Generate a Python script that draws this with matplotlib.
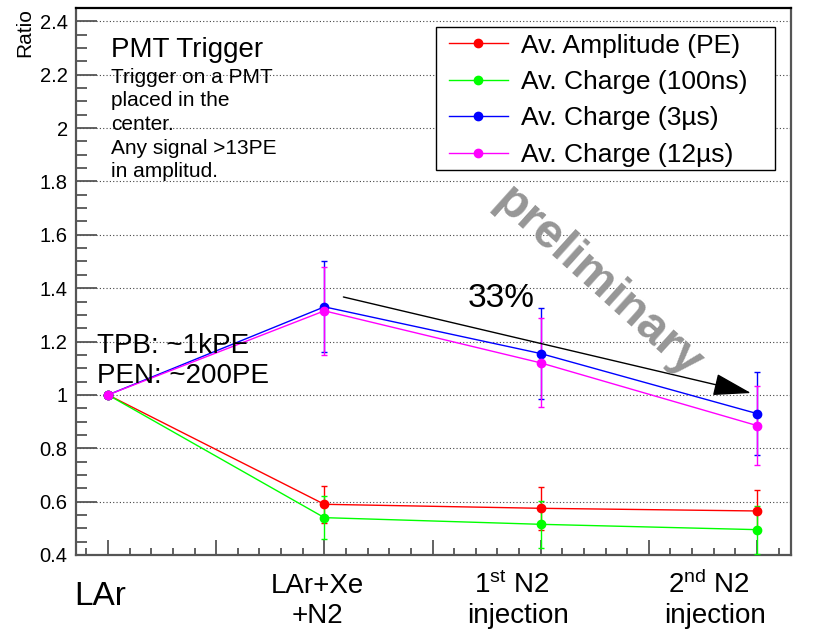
import matplotlib
matplotlib.use("Agg")
import matplotlib.pyplot as plt
from matplotlib.lines import Line2D
from matplotlib.patches import Rectangle
from matplotlib.ticker import MultipleLocator

plt.rcParams["font.family"] = ["Liberation Sans", "DejaVu Sans"]
plt.rcParams["mathtext.fontset"] = "custom"
plt.rcParams["mathtext.rm"] = "Liberation Sans"
plt.rcParams["mathtext.it"] = "Liberation Sans:italic"

# x position of each run stage: LAr, LAr+Xe+N2, 1st N2, 2nd N2
stages = [0, 1, 2, 3]

amplitude = [1.0, 0.59, 0.575, 0.565]
amplitude_err = [0.0, 0.07, 0.08, 0.08]
charge_100ns = [1.0, 0.54, 0.515, 0.495]
charge_100ns_err = [0.0, 0.08, 0.087, 0.09]
charge_3us = [1.0, 1.33, 1.155, 0.93]
charge_3us_err = [0.0, 0.17, 0.17, 0.157]
charge_12us = [1.0, 1.315, 1.12, 0.885]
charge_12us_err = [0.0, 0.165, 0.167, 0.147]

series_labels = ["Av. Amplitude (PE)", "Av. Charge (100ns)",
                 "Av. Charge (3µs)", "Av. Charge (12µs)"]
series_colors = ["#ff0000", "#00ff00", "#0000ff", "#ff00ff"]

W, H = 815, 631


def fig_xy(x, y):
    """Canvas pixel (from top-left) -> figure fraction"""
    return x / W, 1 - y / H


fig = plt.figure(figsize=(W / 100, H / 100), dpi=100)
ax = fig.add_axes([76 / W, 1 - 555 / H, 715 / W, 547 / H])

series = [(amplitude, amplitude_err), (charge_100ns, charge_100ns_err),
          (charge_3us, charge_3us_err), (charge_12us, charge_12us_err)]
for (vals, errs), color in zip(series, series_colors):
    ax.errorbar(stages, vals, yerr=errs, fmt="none", ecolor=color,
                elinewidth=1.0, capsize=2.5, capthick=1.0, zorder=3)
    ax.plot(stages, vals, color=color, lw=1.0, marker="o",
            markersize=6, zorder=4)

ax.set_xlim(-0.148, 3.157)
ax.set_ylim(0.4, 2.45)

# ROOT-like axes: ticks inside, dotted horizontal grid
ax.yaxis.set_major_locator(MultipleLocator(0.2))
ax.yaxis.set_minor_locator(MultipleLocator(0.05))
ax.xaxis.set_major_locator(MultipleLocator(0.5))
ax.xaxis.set_minor_locator(MultipleLocator(0.1))
ax.tick_params(axis="y", which="both", direction="in", left=True, right=False,
               color="#555555", width=1.3, labelsize=14.5, pad=6)
ax.tick_params(axis="y", which="major", length=15)
ax.tick_params(axis="y", which="minor", length=8)
ax.tick_params(axis="x", which="both", direction="in", bottom=True, top=False,
               color="#555555", width=1.3, labelbottom=False)
ax.tick_params(axis="x", which="major", length=11)
ax.tick_params(axis="x", which="minor", length=5)
ax.yaxis.set_major_formatter(plt.FuncFormatter(lambda v, p: f"{v:g}"))
ax.grid(axis="y", which="major", color="#444444", linestyle=(0, (1, 2)), lw=0.8)
ax.set_axisbelow(True)
for side, spine in ax.spines.items():
    spine.set_linewidth(1.6)
    spine.set_color("black" if side == "top" else "#555555")

fig.text(*fig_xy(25, 8), "Ratio", rotation=90, ha="center", va="top", fontsize=15)

# legend box in the upper right, laid out like the ROOT TLegend
fig.add_artist(Rectangle(fig_xy(436, 170), 339 / W, 143 / H,
                         transform=fig.transFigure, facecolor="white",
                         edgecolor="black", lw=1.0, zorder=5))
for i, (label, color) in enumerate(zip(series_labels, series_colors)):
    row_y = fig_xy(0, 43 + 36.5 * i)[1]
    fig.add_artist(Line2D([449 / W, 508 / W], [row_y, row_y], color=color,
                          lw=1.0, transform=fig.transFigure, zorder=6))
    fig.add_artist(Line2D([478 / W], [row_y], color=color, marker="o",
                          markersize=6, transform=fig.transFigure, zorder=6))
    fig.text(521 / W, row_y, label, fontsize=19, va="center_baseline", zorder=6)

# trigger description
fig.text(*fig_xy(111, 57), "PMT Trigger", fontsize=20, va="baseline")
trigger_lines = ["Trigger on a PMT", "placed in the", "center.",
                 "Any signal >13PE", "in amplitud."]
for i, txt in enumerate(trigger_lines):
    fig.text(*fig_xy(111, 83 + 23.5 * i), txt, fontsize=15, va="baseline")

fig.text(*fig_xy(97, 353), "TPB: ~1kPE", fontsize=20, va="baseline")
fig.text(*fig_xy(97, 383), "PEN: ~200PE", fontsize=20, va="baseline")

# drop of the long-window charge between the N2 runs
ax.annotate("", xy=(2.972, 1.007), xytext=(1.088, 1.367),
            arrowprops=dict(arrowstyle="-|>,head_length=2.4,head_width=0.7",
                            mutation_scale=10, color="black", lw=1.0,
                            shrinkA=0, shrinkB=0), zorder=5)
fig.text(*fig_xy(468, 307), "33%", fontsize=24, va="baseline")

fig.text(*fig_xy(598, 283), "preliminary", fontsize=35, fontweight="bold",
         color="#969696", rotation=-42, rotation_mode="anchor",
         ha="center", va="center")

# stage names under the x axis
fig.text(*fig_xy(100, 605), "LAr", fontsize=24, ha="center", va="baseline")
stage_names = [
    (317, "LAr+Xe", "+N2"),
    (512, r"1$^{\mathrm{st}}$ N2", "injection"),
    (709, r"2$^{\mathrm{nd}}$ N2", "injection"),
]
for x, first, second in stage_names:
    fig.text(*fig_xy(x, 593), first, fontsize=20, ha="center", va="baseline")
    fig.text(*fig_xy(x + 6 if "injection" in second else x, 623), second,
             fontsize=20, ha="center", va="baseline")

fig.savefig("out.png", dpi=100)
